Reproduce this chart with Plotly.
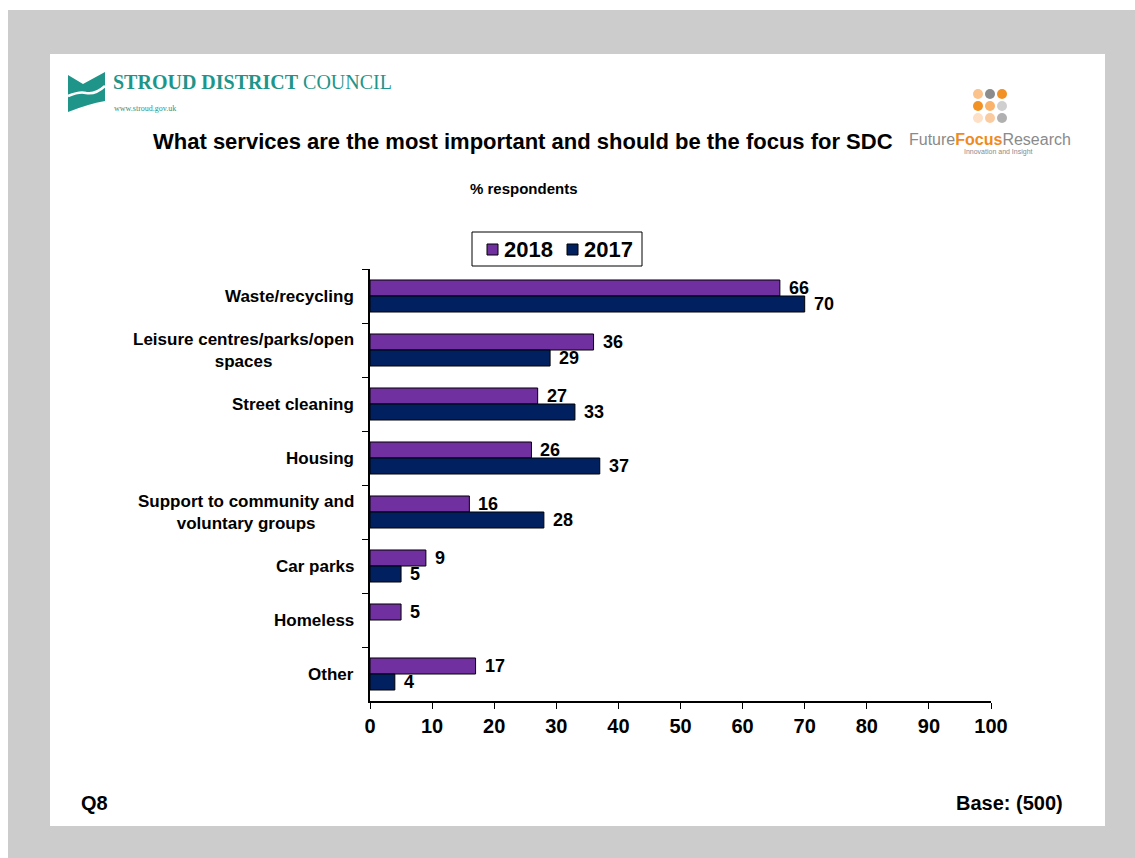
import plotly.graph_objects as go

# Survey results: share of respondents naming each service as a priority
categories = [
    "Waste/recycling",
    "Leisure centres/parks/open spaces",
    "Street cleaning",
    "Housing",
    "Support to community and voluntary groups",
    "Car parks",
    "Homeless",
    "Other",
]
category_labels = [
    "Waste/recycling",
    "Leisure centres/parks/open<br>spaces",
    "Street cleaning",
    "Housing",
    "Support to community and<br>voluntary groups",
    "Car parks",
    "Homeless",
    "Other",
]
series_names = ["2018", "2017"]
values_2018 = [66, 36, 27, 26, 16, 9, 5, 17]
values_2017 = [70, 29, 33, 37, 28, 5, None, 4]
x_ticks = [0, 10, 20, 30, 40, 50, 60, 70, 80, 90, 100]

W, H = 1135, 858
PLOT_L, PLOT_R, PLOT_T, PLOT_B = 370, 991, 269, 701

PURPLE = "#7030a0"
NAVY = "#002060"
TEAL = "#1f958a"
FONT = "Arial, Liberation Sans, sans-serif"
SERIF = "Times New Roman, Liberation Serif, serif"


def px(x):
    return (x - PLOT_L) / (PLOT_R - PLOT_L)


def py(y):
    return (PLOT_B - y) / (PLOT_B - PLOT_T)


fig = go.Figure()
fig.add_trace(go.Bar(
    name=series_names[0], y=categories, x=values_2018, orientation="h",
    marker=dict(color=PURPLE, line=dict(color="black", width=1)),
))
fig.add_trace(go.Bar(
    name=series_names[1], y=categories, x=values_2017, orientation="h",
    marker=dict(color=NAVY, line=dict(color="black", width=1)),
))

annotations = []
# value labels next to bar ends
for vals, dy in ((values_2018, 8), (values_2017, -8)):
    for cat, v in zip(categories, vals):
        if v is not None:
            annotations.append(dict(x=v, y=cat, xref="x", yref="y", text=f"<b>{v}</b>",
                                    showarrow=False, xanchor="left", yanchor="middle",
                                    xshift=7, yshift=dy,
                                    font=dict(family=FONT, size=18, color="black")))

# category labels, lines centred, block right edge against the axis
for cat, lab in zip(categories, category_labels):
    text = "<br>".join(f"<b>{ln}</b>" for ln in lab.split("<br>"))
    annotations.append(dict(x=0, y=cat, xref="paper", yref="y", text=text,
                            showarrow=False, xanchor="right", yanchor="middle",
                            align="center", xshift=-14,
                            font=dict(family=FONT, size=17, color="black")))

# headings and footers
annotations += [
    dict(x=px(523), y=py(141), xref="paper", yref="paper",
         text="<b>What services are the most important and should be the focus for SDC</b>",
         showarrow=False, xanchor="center", yanchor="middle",
         font=dict(family=FONT, size=22, color="black")),
    dict(x=px(524), y=py(188), xref="paper", yref="paper", text="<b>% respondents</b>",
         showarrow=False, xanchor="center", yanchor="middle",
         font=dict(family=FONT, size=15, color="black")),
    dict(x=px(79), y=py(803), xref="paper", yref="paper", text="<b>Q8</b>",
         showarrow=False, xanchor="left", yanchor="middle",
         font=dict(family=FONT, size=20, color="black")),
    dict(x=px(1065), y=py(803), xref="paper", yref="paper", text="<b>Base: (500)</b>",
         showarrow=False, xanchor="right", yanchor="middle",
         font=dict(family=FONT, size=20, color="black")),
    # council logo text
    dict(x=px(111), y=py(82), xref="paper", yref="paper",
         text="<b>STROUD DISTRICT</b> COUNCIL",
         showarrow=False, xanchor="left", yanchor="middle",
         font=dict(family=SERIF, size=20, color=TEAL)),
    dict(x=px(112), y=py(109), xref="paper", yref="paper", text="www.stroud.gov.uk",
         showarrow=False, xanchor="left", yanchor="middle",
         font=dict(family=SERIF, size=8, color=TEAL)),
    # research agency logo text
    dict(x=px(1073), y=py(139), xref="paper", yref="paper",
         text="<span style='color:#8a8a8a'>Future</span><b><span style='color:#f08a1c'>Focus</span></b><span style='color:#8a8a8a'>Research</span>",
         showarrow=False, xanchor="right", yanchor="middle",
         font=dict(family=FONT, size=16, color="#8a8a8a")),
    dict(x=px(998), y=py(152), xref="paper", yref="paper", text="Innovation and Insight",
         showarrow=False, xanchor="center", yanchor="middle",
         font=dict(family=FONT, size=7, color="#8a8a8a")),
]

shapes = [
    # page backdrop and white panel
    dict(type="rect", xref="paper", yref="paper", x0=px(8), x1=px(1135), y0=py(10), y1=py(858),
         fillcolor="#cccccc", line=dict(width=0), layer="below"),
    dict(type="rect", xref="paper", yref="paper", x0=px(50), x1=px(1105), y0=py(54), y1=py(826),
         fillcolor="white", line=dict(width=0), layer="below"),
    # council emblem
    dict(type="path", xref="paper", yref="paper", layer="above",
         path=f"M {px(68)},{py(75)} L {px(83)},{py(84)} L {px(105)},{py(72)} L {px(105)},{py(101)} "
              f"Q {px(88)},{py(104)} {px(68)},{py(112)} Z",
         fillcolor=TEAL, line=dict(width=0)),
    dict(type="path", xref="paper", yref="paper", layer="above",
         path=f"M {px(68)},{py(96)} Q {px(80)},{py(91)} {px(86)},{py(93)} Q {px(95)},{py(95)} {px(105)},{py(86)}",
         line=dict(color="white", width=2.5)),
]

# legend: framed box with a swatch and bold year per series
LEG_BOX = (472, 232, 642, 266)
shapes.append(dict(type="rect", xref="paper", yref="paper",
                   x0=px(LEG_BOX[0]), x1=px(LEG_BOX[2]), y0=py(LEG_BOX[1]), y1=py(LEG_BOX[3]),
                   fillcolor="white", line=dict(color="black", width=1), layer="above"))
for name, color, sx in zip(series_names, (PURPLE, NAVY), (487, 567)):
    shapes.append(dict(type="rect", xref="paper", yref="paper",
                       x0=px(sx), x1=px(sx + 11), y0=py(244), y1=py(255),
                       fillcolor=color, line=dict(color="black", width=1), layer="above"))
    annotations.append(dict(x=px(sx + 15), y=py(249), xref="paper", yref="paper",
                            text=f"<b>{name}</b>", showarrow=False,
                            xanchor="left", yanchor="middle",
                            font=dict(family=FONT, size=22, color="black")))

# agency logo dot grid
dot_colors = [
    ["#fbc28c", "#8c8c8c", "#f39224"],
    ["#f39224", "#f9b36b", "#cfcfcf"],
    ["#fde0c6", "#fbcba0", "#b0b0b0"],
]
dot_x = [978, 990, 1002]
dot_y = [94, 106, 118]
for r, yc in enumerate(dot_y):
    for c, xc in enumerate(dot_x):
        shapes.append(dict(type="circle", xref="paper", yref="paper",
                           x0=px(xc - 5), x1=px(xc + 5), y0=py(yc - 5), y1=py(yc + 5),
                           fillcolor=dot_colors[r][c], line=dict(width=0), layer="above"))

fig.update_layout(
    width=W, height=H,
    margin=dict(l=PLOT_L, r=W - PLOT_R, t=PLOT_T, b=H - PLOT_B, pad=0),
    paper_bgcolor="white",
    plot_bgcolor="rgba(0,0,0,0)",
    barmode="group",
    bargap=0.407,
    bargroupgap=0,
    showlegend=False,
    annotations=annotations,
    shapes=shapes,
    xaxis=dict(
        range=[0, 100], tickvals=x_ticks, ticktext=[f"<b>{t}</b>" for t in x_ticks],
        showline=True, linecolor="black", linewidth=1.5,
        ticks="outside", ticklen=6, tickcolor="black", tickwidth=1,
        showgrid=False, zeroline=False,
        tickfont=dict(family=FONT, size=20, color="black"),
    ),
    yaxis=dict(
        categoryorder="array", categoryarray=categories, autorange="reversed",
        showticklabels=False, showline=True, linecolor="black", linewidth=1.5,
        ticks="outside", ticklen=6, tickcolor="black", tickson="boundaries",
        showgrid=False, zeroline=False,
    ),
)

fig.write_html("out.html")
